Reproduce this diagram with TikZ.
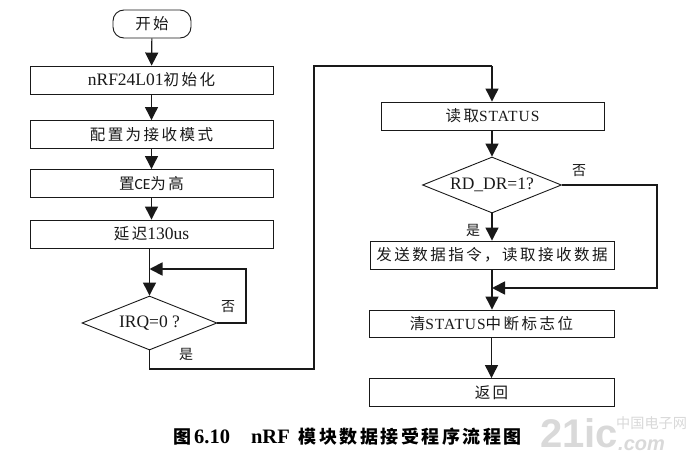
\documentclass[tikz,border=0pt]{standalone}
\usepackage{fontspec}
\usetikzlibrary{arrows.meta,shapes.geometric}
\setmainfont{Liberation Serif}
\newfontfamily\zh[Scale=0.886]{Noto Sans CJK SC}
\newfontfamily\zhw[Scale=0.886,LetterSpace=16]{Noto Sans CJK SC}
\newfontfamily\zhb[Scale=0.878,LetterSpace=14]{Noto Sans CJK SC Bold}
\newfontfamily\latw[Scale=0.886,LetterSpace=6]{Liberation Serif}
\newfontfamily\wmk{Liberation Sans}
\definecolor{ink}{gray}{0.1}
\tikzset{
  x=1pt,y=-1pt,
  every node/.style={font=\fontsize{17.5}{20}\selectfont,text=ink,inner sep=0pt},
  box/.style={draw=ink,line width=0.9pt,rectangle,minimum width=243pt,minimum height=28pt},
  term/.style={draw=ink,line width=0.9pt,rectangle,rounded corners=11pt,minimum width=78pt,minimum height=28pt},
  deci/.style={draw=ink,line width=0.9pt,diamond,aspect=2.5},
  flow/.style={draw=ink,line width=1.2pt,-{Triangle[length=13pt,width=13pt]}},
  wire/.style={draw=ink,line width=1.2pt},
  backflow/.style={draw=ink,line width=1.8pt,-{Triangle[length=13pt,width=13pt]}},
  lab/.style={font=\fontsize{15.8}{18}\selectfont},
  wm/.style={text=black!15}
}
\begin{document}
\begin{tikzpicture}
\useasboundingbox (0,0) rectangle (696,460);
\fill[white] (0,0) rectangle (696,460);
\node[term] (start) at (152,24) {\zhw 开始};
\node[box] (init) at (151.5,80) {nRF24L01{\zhw 初始化}};
\node[box] (cfg) at (151.5,134.5) {\zhw 配置为接收模式};
\node[box] (ce) at (151.5,183.5) {{\zhw 置}{\fontspec{Carlito}[Scale=0.886]CE}{\zhw 为高}};
\node[box] (dly) at (151.5,234) {{\zhw 延迟}130us};
\node[deci,minimum width=135pt,minimum height=54pt] (irq) at (149.5,323) {IRQ=0 ?};
\coordinate (join) at (149.5,269);
\coordinate (loopc) at (246,323);
\coordinate (d1) at (149.5,369);
\coordinate (d2) at (314,369);
\coordinate (d3) at (314,66);
\node[box,minimum width=223pt] (rd) at (492.5,116) {{\zhw 读取}{\latw STATUS}};
\node[deci,minimum width=139pt,minimum height=56pt] (rdy) at (492,185) {RD\_DR=1?};
\node[box,minimum width=244pt] (send) at (492,255) {\zhw 发送数据指令，读取接收数据};
\coordinate (merge) at (492,288);
\coordinate (noc) at (657,185);
\node[box,minimum width=245pt,minimum height=27pt] (clr) at (491.5,323.5) {{\zhw 清}{\latw STATUS}{\zhw 中断标志位}};
\node[box,minimum width=245pt] (ret) at (491.5,392.5) {\zhw 返回};
\coordinate (top) at (492,66);
\draw[flow] (start) -- (init);
\draw[flow] (init) -- (cfg);
\draw[flow] (cfg) -- (ce);
\draw[flow] (ce) -- (dly);
\draw[flow] (dly.south -| irq.north) -- (irq.north);
\draw[backflow] (irq.east) -- (loopc) |- (join);
\draw[wire] (irq.south) -- (d1) -- (d2) -- (d3) -- (top);
\draw[flow] (top) -- (rd.north -| top);
\draw[flow] (rd.south -| rdy.north) -- (rdy.north);
\draw[flow] (rdy.south) -- (send.north -| rdy.south);
\draw[backflow] (rdy.east) -- (noc) |- (merge);
\draw[flow] (send.south) -- (clr.north -| send.south);
\draw[flow] (clr) -- (ret);
\node[lab] (no1) at (228,307) {\zh 否};
\node[lab] (yes1) at (186,354) {\zh 是};
\node[lab] (no2) at (579,171) {\zh 否};
\node[lab] (yes2) at (473,230) {\zh 是};
\node[font=\fontsize{20.5}{24}\bfseries\selectfont,anchor=west,text=black] (cap) at (173,437)
  {{\zhb 图}\hspace{3pt}6.10\hspace{21pt}nRF\hspace{9pt}{\zhb 模块数据接受程序流程图}};
\node[wm,font=\fontsize{40}{40}\bfseries\wmk\selectfont,anchor=west] (w1) at (540,433) {21ic};
\node[wm,font=\fontsize{16}{16}\selectfont,anchor=west] (w2) at (616,423) {\zh 中国电子网};
\node[wm,font=\fontsize{20}{20}\bfseries\itshape\wmk\selectfont,anchor=west] (w3) at (618,445) {.com};
\end{tikzpicture}
\end{document}
